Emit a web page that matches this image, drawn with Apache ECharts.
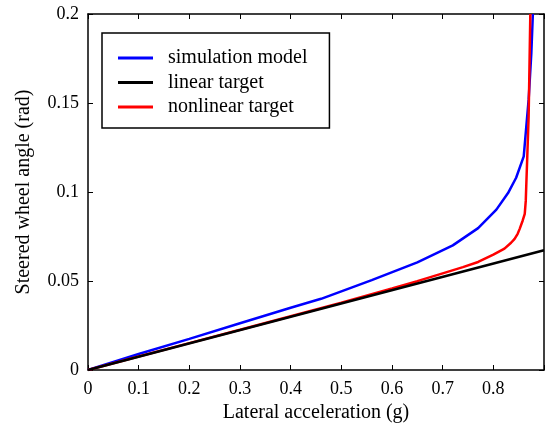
<!DOCTYPE html>
<html><head><meta charset="utf-8">
<script src="https://cdn.jsdelivr.net/npm/echarts@6/dist/echarts.min.js"></script>
<style>html,body{margin:0;padding:0;background:#fff}#c{width:547px;height:428px}</style>
</head><body><div id="c"></div>
<script>
const xTicks = [0, 0.1, 0.2, 0.3, 0.4, 0.5, 0.6, 0.7, 0.8];
const yTicks = [0, 0.05, 0.1, 0.15, 0.2];
const simX = [0, 0.1, 0.2, 0.3, 0.4, 0.46, 0.56, 0.65, 0.72, 0.77, 0.806, 0.829, 0.845, 0.86, 0.8697, 0.875, 0.878];
const simY = [0, 0.009, 0.0175, 0.0263, 0.035, 0.0400, 0.0505, 0.0605, 0.0700, 0.0797, 0.0901, 0.0994, 0.108, 0.120, 0.152, 0.178, 0.2];
const linX = [0, 0.9];
const linY = [0, 0.0673];
const nlX = [0, 0.1, 0.2, 0.3, 0.4, 0.5, 0.6, 0.65, 0.7, 0.74, 0.77, 0.8, 0.822, 0.835, 0.842, 0.848, 0.852, 0.858, 0.862, 0.864, 0.865, 0.867, 0.8697, 0.871, 0.873];
const nlY = [0, 0.0076, 0.0151, 0.0226, 0.0302, 0.0378, 0.0458, 0.0499, 0.0543, 0.0578, 0.0607, 0.0648, 0.0682, 0.0715, 0.0737, 0.0765, 0.0793, 0.084, 0.0877, 0.095, 0.1035, 0.12, 0.1426, 0.165, 0.2];

const zip = (a, b) => a.map((v, i) => [v, b[i]]);
const font = 'Liberation Serif';
const chart = echarts.init(document.getElementById('c'));
const axLine = {show: true, onZero: false, lineStyle: {color: '#000', width: 1.5}};
const ticks = {show: true, inside: true, length: 5, lineStyle: {color: '#000', width: 1}};
chart.setOption({
  animation: false,
  grid: {left: 88, right: 1, top: 14, bottom: 56},
  legend: {
    orient: 'vertical', left: 102, top: 33,
    data: ['simulation model', 'linear target', 'nonlinear target'],
    icon: 'rect', itemWidth: 35, itemHeight: 3, itemGap: 4.5,
    borderColor: '#000', borderWidth: 1.5, borderRadius: 0,
    padding: [15, 22, 11, 16],
    textStyle: {fontFamily: font, fontSize: 20, color: '#000', padding: [0, 0, 0, 10]}
  },
  xAxis: [{
    type: 'value', min: 0, max: 0.9, interval: 0.1,
    name: 'Lateral acceleration (g)', nameLocation: 'middle', nameGap: 33,
    nameTextStyle: {fontFamily: font, fontSize: 20, color: '#000'},
    axisLine: axLine, axisTick: ticks,
    axisLabel: {fontFamily: font, fontSize: 18, color: '#000', margin: 10,
      formatter: v => xTicks.some(t => Math.abs(t - v) < 1e-9) ? String(+v.toFixed(2)) : ''},
    splitLine: {show: false}
  }, {
    type: 'value', position: 'top', min: 0, max: 0.9, interval: 0.1,
    axisLine: axLine, axisTick: ticks, axisLabel: {show: false}, splitLine: {show: false}
  }],
  yAxis: [{
    type: 'value', min: 0, max: 0.2, interval: 0.05,
    name: 'Steered wheel angle (rad)', nameLocation: 'middle', nameGap: 54,
    nameTextStyle: {fontFamily: font, fontSize: 20, color: '#000'},
    axisLine: axLine, axisTick: ticks,
    axisLabel: {fontFamily: font, fontSize: 18, color: '#000', margin: 9,
      formatter: v => yTicks.some(t => Math.abs(t - v) < 1e-9) ? String(+v.toFixed(2)) : ''},
    splitLine: {show: false}
  }, {
    type: 'value', position: 'right', min: 0, max: 0.2, interval: 0.05,
    axisLine: axLine, axisTick: ticks, axisLabel: {show: false}, splitLine: {show: false}
  }],
  series: [
    {name: 'simulation model', type: 'line', data: zip(simX, simY), showSymbol: false, symbol: 'none',
     lineStyle: {color: '#0000ff', width: 2.5}, itemStyle: {color: '#0000ff'}, z: 2},
    {name: 'nonlinear target', type: 'line', data: zip(nlX, nlY), showSymbol: false, symbol: 'none',
     lineStyle: {color: '#ff0000', width: 2.5}, itemStyle: {color: '#ff0000'}, z: 3},
    {name: 'linear target', type: 'line', data: zip(linX, linY), showSymbol: false, symbol: 'none',
     lineStyle: {color: '#000', width: 2.5}, itemStyle: {color: '#000'}, z: 4}
  ]
});
</script></body></html>
